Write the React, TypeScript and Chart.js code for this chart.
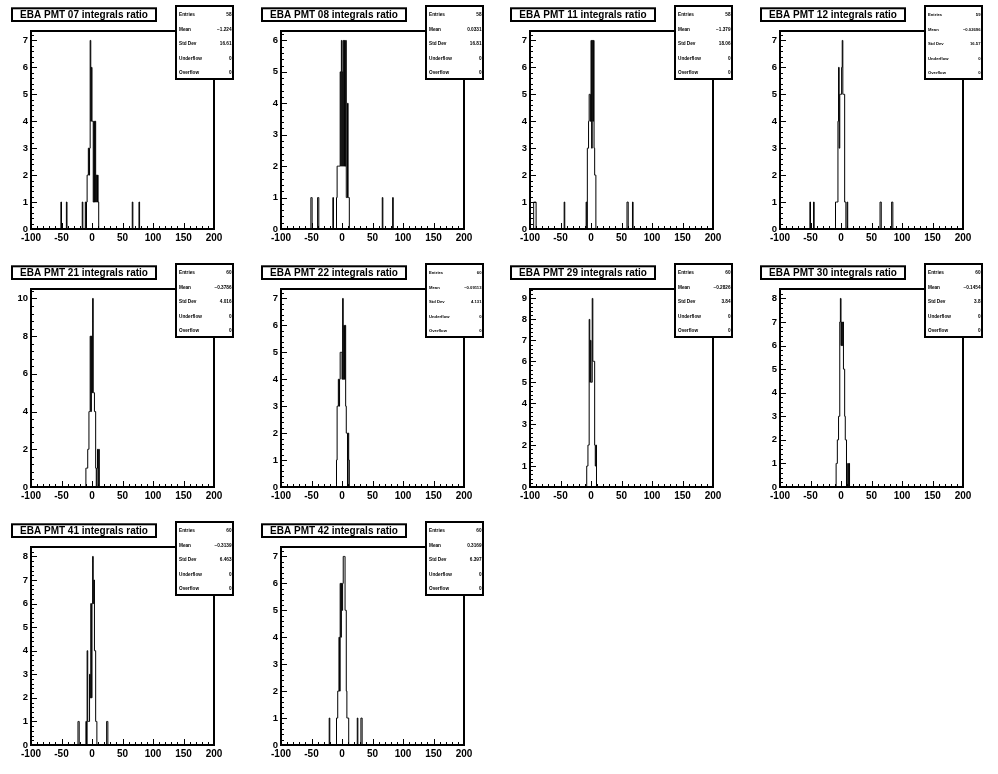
import React, { useEffect, useRef } from "react";
import { Chart, registerables } from "chart.js";

Chart.register(...registerables);

const FONT = "'Liberation Sans', Arial, Helvetica, sans-serif";
const X_MIN = -100;
const X_MAX = 200;

const pmtNumbers = ["07", "08", "11", "12", "21", "22", "29", "30", "41", "42"];
const entries = [58, 58, 58, 59, 60, 60, 60, 60, 60, 60];
const means = ["\u22121.224", "0.0331", "\u22121.379", "\u22120.02696", "\u22120.3786", "\u22120.09113", "\u22120.2826", "\u22120.1454", "\u22120.3139", "0.3169"];
const stdDevs = ["16.61", "16.81", "18.06", "16.57", "4.016", "4.131", "3.84", "3.8", "6.463", "6.397"];
const underflows = [0, 0, 0, 0, 0, 0, 0, 0, 0, 0];
const overflows = [0, 0, 0, 0, 0, 0, 0, 0, 0, 0];

// [bin left edge, count] (bin width 1)
const bins07: number[][] = [[-51, 1], [-42, 1], [-16, 1], [-11, 1], [-9, 1], [-8, 2], [-7, 2], [-6, 3], [-5, 2], [-4, 3], [-3, 7], [-2, 4], [-1, 6], [0, 4], [1, 4], [2, 1], [3, 4], [4, 1], [5, 4], [6, 1], [7, 2], [8, 1], [9, 2], [10, 1], [66, 1], [77, 1]];
const bins08: number[][] = [[-51, 1], [-50, 1], [-40, 1], [-39, 1], [-15, 1], [-9, 1], [-8, 2], [-7, 2], [-6, 2], [-5, 2], [-4, 2], [-3, 5], [-2, 2], [-1, 6], [0, 5], [1, 2], [2, 6], [3, 2], [4, 6], [5, 2], [6, 6], [7, 1], [8, 1], [9, 4], [10, 1], [11, 1], [66, 1], [83, 1]];
const bins11: number[][] = [[-94, 1], [-93, 1], [-92, 1], [-91, 1], [-44, 1], [-8, 1], [-6, 3], [-5, 3], [-4, 4], [-3, 5], [-2, 5], [-1, 4], [0, 7], [1, 3], [2, 7], [3, 4], [4, 7], [5, 3], [6, 2], [7, 2], [59, 1], [60, 1], [68, 1]];
const bins12: number[][] = [[-51, 1], [-45, 1], [-9, 1], [-8, 1], [-7, 1], [-6, 1], [-5, 4], [-4, 6], [-3, 3], [-2, 5], [-1, 5], [0, 5], [1, 6], [2, 7], [3, 5], [4, 5], [5, 5], [6, 1], [7, 1], [10, 1], [64, 1], [65, 1], [83, 1], [84, 1]];
const bins21: number[][] = [[-10, 1], [-9, 1], [-8, 1], [-7, 2], [-6, 2], [-5, 4], [-4, 4], [-3, 8], [-2, 4], [-1, 8], [0, 5], [1, 10], [2, 5], [3, 5], [4, 4], [5, 4], [6, 1], [8, 1], [9, 2], [11, 2]];
const bins22: number[][] = [[-9, 1], [-8, 3], [-7, 3], [-6, 4], [-5, 3], [-4, 4], [-3, 5], [-2, 5], [-1, 5], [0, 4], [1, 7], [2, 4], [3, 6], [4, 4], [5, 6], [6, 3], [7, 2], [8, 2], [10, 2], [11, 1]];
const bins29: number[][] = [[-7, 1], [-6, 1], [-5, 2], [-4, 2], [-3, 8], [-2, 5], [-1, 7], [0, 5], [1, 5], [2, 9], [3, 6], [4, 6], [5, 6], [6, 2], [7, 1], [8, 2]];
const bins30: number[][] = [[-8, 1], [-7, 1], [-6, 2], [-5, 2], [-4, 3], [-3, 3], [-2, 7], [-1, 8], [0, 6], [1, 7], [2, 6], [3, 7], [4, 5], [5, 5], [6, 3], [7, 2], [8, 2], [11, 1], [13, 1]];
const bins41: number[][] = [[-23, 1], [-22, 1], [-10, 1], [-8, 4], [-7, 1], [-6, 1], [-5, 1], [-4, 3], [-3, 2], [-2, 6], [-1, 2], [0, 6], [1, 8], [2, 6], [3, 7], [4, 4], [5, 4], [6, 1], [7, 1], [24, 1], [25, 1]];
const bins42: number[][] = [[-21, 1], [-9, 1], [-8, 1], [-7, 2], [-6, 2], [-5, 4], [-4, 2], [-3, 6], [-2, 4], [-1, 6], [0, 5], [1, 6], [2, 7], [3, 7], [4, 7], [5, 5], [6, 5], [7, 2], [8, 1], [9, 1], [10, 1], [25, 1], [31, 1], [32, 1]];

const allBins = [bins07, bins08, bins11, bins12, bins21, bins22, bins29, bins30, bins41, bins42];

const PANEL_W = 250;
const PANEL_H = 258;
const colX = [0, 250, 499, 749];
const rowY = [0, 258, 516];

function Panel({ index }: { index: number }) {
  const ref = useRef<HTMLCanvasElement>(null);
  useEffect(() => {
    const canvas = ref.current;
    if (!canvas) return;
    const counts: number[] = new Array(X_MAX - X_MIN).fill(0);
    for (const [edge, c] of allBins[index]) counts[edge - X_MIN] = c;
    const pts: { x: number; y: number }[] = [{ x: X_MIN, y: 0 }];
    counts.forEach((c, i) => pts.push({ x: X_MIN + i, y: c }));
    pts.push({ x: X_MAX, y: 0 });
    const maxCount = Math.max(...counts);
    const yMax = maxCount * 1.05;
    const step = maxCount > 9 ? 2 : 1;
    const title = `EBA PMT ${pmtNumbers[index]} integrals ratio`;
    const statLabels = ["Entries", "Mean", "Std Dev", "Underflow", "Overflow"];
    const statValues = [String(entries[index]), means[index], stdDevs[index], String(underflows[index]), String(overflows[index])];
    const longStats = means[index].length > 7;

    const decor = {
      id: "rootDecor" + index,
      afterDraw(chart: any) {
        const ctx: CanvasRenderingContext2D = chart.ctx;
        const a = chart.chartArea;
        const xs = chart.scales.x;
        const ys = chart.scales.y;
        ctx.save();
        ctx.strokeStyle = "#000";
        ctx.lineWidth = 1;
        ctx.beginPath();
        for (let v = X_MIN; v <= X_MAX; v += 10) {
          const px = Math.round(xs.getPixelForValue(v)) + 0.5;
          const len = (v - X_MIN) % 50 === 0 ? 6 : 3;
          ctx.moveTo(px, a.bottom);
          ctx.lineTo(px, a.bottom - len);
        }
        const minor = step / 5;
        for (let k = 0; k * minor <= yMax + 1e-9; k++) {
          const py = Math.round(ys.getPixelForValue(k * minor)) + 0.5;
          const len = k % 5 === 0 ? 6 : 3;
          ctx.moveTo(a.left, py);
          ctx.lineTo(a.left + len, py);
        }
        ctx.stroke();
        ctx.lineWidth = 2;
        ctx.strokeRect(a.left, a.top, a.right - a.left, a.bottom - a.top);

        // title box
        ctx.fillStyle = "#fff";
        ctx.fillRect(11, 7, 146, 15);
        ctx.strokeRect(12, 8.3, 144, 12.7);
        ctx.fillStyle = "#000";
        ctx.font = `bold 10px ${FONT}`;
        ctx.textAlign = "center";
        ctx.textBaseline = "middle";
        ctx.fillText(title, 84, 15);

        // stats box
        ctx.fillStyle = "#fff";
        ctx.fillRect(175, 5, 59, 75);
        ctx.strokeRect(176, 6, 57, 73);
        ctx.fillStyle = "#000";
        ctx.font = longStats ? `bold 4.2px ${FONT}` : `bold 4.7px ${FONT}`;
        const rows = [15, 29.5, 44, 58.5, 73];
        statLabels.forEach((lab, i) => {
          ctx.textAlign = "left";
          ctx.fillText(lab, 179, rows[i]);
          ctx.textAlign = "right";
          ctx.fillText(statValues[i], 231.5, rows[i]);
        });
        ctx.restore();
      },
    };

    const chart = new Chart(canvas, {
      type: "line",
      data: {
        datasets: [
          {
            data: pts,
            stepped: true,
            borderColor: "#000",
            borderWidth: 1,
            pointRadius: 0,
            fill: false,
            tension: 0,
          } as any,
        ],
      },
      options: {
        animation: false,
        responsive: false,
        devicePixelRatio: 1,
        events: [],
        layout: { padding: { left: 0, top: 31, right: PANEL_W - 214, bottom: 0 } },
        plugins: { legend: { display: false }, tooltip: { enabled: false }, title: { display: false } },
        scales: {
          x: {
            type: "linear",
            min: X_MIN,
            max: X_MAX,
            grid: { display: false, drawTicks: false },
            border: { display: false },
            ticks: {
              stepSize: 50,
              autoSkip: false,
              maxRotation: 0,
              padding: 3,
              color: "#000",
              font: { family: FONT, size: 10, weight: "bold" },
            },
            afterFit(scale: any) {
              scale.height = PANEL_H - 229;
            },
          },
          y: {
            type: "linear",
            min: 0,
            max: yMax,
            grid: { display: false, drawTicks: false },
            border: { display: false },
            ticks: {
              stepSize: step,
              includeBounds: false,
              autoSkip: false,
              padding: 3,
              color: "#000",
              font: { family: FONT, size: 9.5, weight: "bold" },
            },
            afterFit(scale: any) {
              scale.width = 31;
            },
          },
        },
      } as any,
      plugins: [decor],
    });
    return () => chart.destroy();
  }, [index]);

  const col = index % 4;
  const row = Math.floor(index / 4);
  return (
    <canvas
      ref={ref}
      width={PANEL_W}
      height={PANEL_H}
      style={{ position: "absolute", left: colX[col], top: rowY[row], width: PANEL_W, height: PANEL_H, display: "block" }}
    />
  );
}

export default function App() {
  return (
    <div style={{ position: "absolute", left: 0, top: 0, width: 998, height: 774, overflow: "hidden", background: "#fff" }}>
      {pmtNumbers.map((_, i) => (
        <Panel key={i} index={i} />
      ))}
    </div>
  );
}
